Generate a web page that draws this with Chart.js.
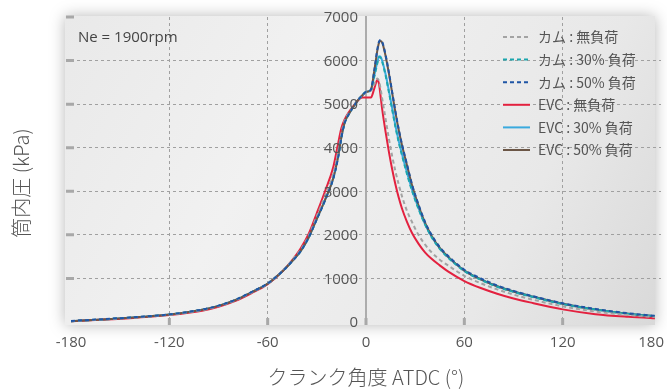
<!DOCTYPE html>
<html>
<head>
<meta charset="utf-8">
<script src="https://cdn.jsdelivr.net/npm/chart.js@4.4.0/dist/chart.umd.min.js"></script>
<style>
  html, body { margin: 0; padding: 0; background: #fff; }
</style>
</head>
<body>
<canvas id="pressureChart" width="667" height="390"></canvas>
<script>
// crank angle (deg ATDC)
const angles = [-180, -160, -140, -120, -100, -90, -80, -70, -60, -50, -45, -40, -35, -30, -25,
  -20, -17, -15, -13, -10, -7, -4, -2, 0, 3, 5, 7, 8, 9, 10, 12, 14, 16, 18, 20,
  22, 25, 28, 32, 36, 40, 45, 50, 60, 70, 80, 90, 100, 120, 140, 160, 180];

// cylinder pressure (kPa)
const camNoLoad = [20, 58, 105, 165, 275, 365, 495, 675, 880, 1210, 1420, 1650, 1980, 2430, 2900,
  3400, 3900, 4330, 4620, 4820, 4990, 5130, 5200, 5270, 5310, 5450, 5590, 5520, 5330, 5100, 4650, 4200, 3800, 3450, 3150,
  2880, 2550, 2300, 2000, 1780, 1600, 1430, 1300, 1060, 890, 750, 630, 530, 360, 240, 160, 100];
const cam30 = [20, 60, 110, 170, 280, 370, 500, 680, 880, 1200, 1400, 1620, 1940, 2370, 2800,
  3300, 3800, 4250, 4580, 4800, 4980, 5130, 5210, 5280, 5320, 5620, 5950, 6080, 6060, 5960, 5650, 5270, 4870, 4470, 4120,
  3820, 3400, 3020, 2600, 2240, 1950, 1680, 1480, 1170, 970, 810, 690, 590, 410, 285, 185, 120];
const cam50 = [25, 65, 115, 175, 285, 375, 505, 685, 885, 1200, 1400, 1620, 1940, 2360, 2790,
  3290, 3780, 4240, 4570, 4800, 4980, 5130, 5210, 5280, 5330, 5760, 6270, 6440, 6470, 6420, 6120, 5720, 5270, 4820, 4420,
  4070, 3620, 3170, 2700, 2300, 2000, 1720, 1520, 1200, 1000, 840, 715, 610, 430, 300, 200, 130];
const evcNoLoad = [20, 55, 100, 160, 260, 350, 480, 660, 870, 1200, 1420, 1680, 2020, 2500, 3000,
  3550, 4100, 4450, 4650, 4840, 4990, 5120, 5150, 5150, 5150, 5350, 5560, 5450, 5150, 4850, 4350, 3900, 3500, 3150, 2850,
  2600, 2300, 2050, 1800, 1600, 1450, 1300, 1160, 940, 780, 650, 540, 450, 290, 180, 120, 80];
const evc30 = [20, 60, 110, 170, 280, 370, 500, 680, 880, 1200, 1400, 1620, 1940, 2370, 2800,
  3300, 3800, 4250, 4580, 4800, 4980, 5130, 5210, 5280, 5330, 5650, 5980, 6100, 6080, 5980, 5680, 5300, 4900, 4500, 4150,
  3850, 3430, 3050, 2620, 2250, 1960, 1690, 1490, 1180, 980, 820, 700, 600, 420, 290, 190, 125];
const evc50 = [20, 60, 110, 170, 280, 370, 500, 680, 880, 1200, 1400, 1620, 1940, 2370, 2800,
  3300, 3800, 4250, 4580, 4800, 4980, 5130, 5210, 5280, 5330, 5750, 6250, 6420, 6450, 6400, 6100, 5700, 5250, 4800, 4400,
  4050, 3600, 3150, 2680, 2280, 1980, 1700, 1500, 1180, 980, 820, 700, 600, 420, 290, 190, 120];

const seriesLabels = ['カム : 無負荷', 'カム : 30% 負荷', 'カム : 50% 負荷', 'EVC : 無負荷', 'EVC : 30% 負荷', 'EVC : 50% 負荷'];
const xTicks = [-180, -120, -60, 0, 60, 120, 180];
const yTicks = [0, 1000, 2000, 3000, 4000, 5000, 6000, 7000];

const textColor = '#555';
const fontLatin = "'Open Sans', 'Noto Sans CJK JP', sans-serif";
const fontCJK = "'Noto Sans CJK JP', sans-serif";

function points(values) {
  return angles.map((a, i) => ({ x: a, y: values[i] }));
}

// light grey plot panel with a soft shadow
const panelPlugin = {
  id: 'panel',
  beforeDraw(chart) {
    const { ctx, chartArea: a } = chart;
    const x = a.left - 6, y = a.top - 1, w = a.right - a.left, h = a.bottom - a.top + 4;
    ctx.save();
    ctx.shadowColor = 'rgba(0,0,0,0.28)';
    ctx.shadowBlur = 14;
    const g = ctx.createLinearGradient(x, y, x + w, y + h);
    g.addColorStop(0, '#e9e9e9');
    g.addColorStop(0.35, '#f1f1f1');
    g.addColorStop(0.75, '#e8e8e8');
    g.addColorStop(1, '#d9d9d9');
    ctx.fillStyle = g;
    ctx.fillRect(x, y, w, h);
    ctx.restore();
  }
};

// short solid tick marks inside the panel edges
const innerTicksPlugin = {
  id: 'innerTicks',
  beforeDatasetsDraw(chart) {
    const { ctx, chartArea: a, scales } = chart;
    ctx.save();
    ctx.strokeStyle = '#a8a8a8';
    ctx.lineWidth = 3;
    ctx.beginPath();
    yTicks.slice(1).forEach(v => {
      const py = scales.y.getPixelForValue(v);
      ctx.moveTo(a.left - 5, py);
      ctx.lineTo(a.left + 3, py);
    });
    xTicks.slice(1, -1).forEach(v => {
      const px = scales.x.getPixelForValue(v);
      ctx.moveTo(px, a.bottom - 4);
      ctx.lineTo(px, a.bottom + 3);
    });
    ctx.stroke();
    ctx.restore();
  }
};

// tick labels, note, y title and legend
const labelsPlugin = {
  id: 'labels',
  afterDatasetsDraw(chart) {
    const { ctx, scales, chartArea: a, width } = chart;
    const axisX = scales.x.getPixelForValue(0);
    ctx.save();
    ctx.fillStyle = textColor;
    ctx.font = "15px " + fontLatin;
    ctx.textAlign = 'right';
    ctx.textBaseline = 'middle';
    yTicks.forEach(v => {
      ctx.fillText(String(v), axisX - 8, scales.y.getPixelForValue(v) + 1);
    });

    ctx.textAlign = 'center';
    xTicks.forEach(v => {
      const label = String(v);
      const half = ctx.measureText(label).width / 2;
      const px = Math.min(scales.x.getPixelForValue(v), width - half - 3);
      ctx.fillText(label, px, a.bottom + 21);
    });

    ctx.fillStyle = '#444';
    ctx.textAlign = 'left';
    ctx.fillText('Ne = 1900rpm', 78, 38);

    ctx.save();
    ctx.translate(21, 183);
    ctx.rotate(-Math.PI / 2);
    ctx.textAlign = 'center';
    ctx.fillStyle = textColor;
    ctx.font = "300 20px " + fontCJK;
    ctx.fillText('筒内圧 (kPa)', 0, 0);
    ctx.restore();

    ctx.font = "14px " + fontCJK;
    ctx.fillStyle = textColor;
    chart.data.datasets.forEach((ds, i) => {
      const ly = 37 + i * 22.6;
      ctx.save();
      ctx.strokeStyle = ds.borderColor;
      ctx.lineWidth = 2;
      ctx.setLineDash(ds.borderDash || []);
      ctx.beginPath();
      ctx.moveTo(503, ly);
      ctx.lineTo(530, ly);
      ctx.stroke();
      ctx.restore();
      ctx.fillText(ds.label, 538, ly);
    });
    ctx.restore();
  }
};

const lineClip = { left: 6, top: 5, right: -6, bottom: 3 };

const ctx = document.getElementById('pressureChart').getContext('2d');
const pressureChart = new Chart(ctx, {
  type: 'line',
  data: {
    datasets: [
      { label: seriesLabels[0], data: points(camNoLoad), borderColor: '#a3a3a3', borderDash: [4, 3], order: 1 },
      { label: seriesLabels[1], data: points(cam30), borderColor: '#1ca6ad', borderDash: [4, 3], order: 1 },
      { label: seriesLabels[2], data: points(cam50), borderColor: '#1f55a5', borderDash: [4, 3], order: 0 },
      { label: seriesLabels[3], data: points(evcNoLoad), borderColor: '#e3213f', order: 3 },
      { label: seriesLabels[4], data: points(evc30), borderColor: '#3aaade', order: 3 },
      { label: seriesLabels[5], data: points(evc50), borderColor: '#6b5646', order: 2 }
    ].map(ds => Object.assign(ds, { clip: lineClip }))
  },
  options: {
    responsive: false,
    animation: false,
    layout: { padding: { left: 71, right: 6, top: 17, bottom: 0 } },
    elements: {
      point: { radius: 0 },
      line: { borderWidth: 2, cubicInterpolationMode: 'monotone', fill: false }
    },
    scales: {
      x: {
        type: 'linear',
        min: -180,
        max: 180,
        afterBuildTicks: s => { s.ticks = xTicks.map(v => ({ value: v })); },
        afterFit: s => { s.height = 68; s.paddingLeft = 0; s.paddingRight = 0; },
        grid: {
          drawTicks: false,
          color: c => (c.tick && [-120, -60, 60, 120].includes(c.tick.value)) ? '#a0a0a0' : 'rgba(0,0,0,0)',
          lineWidth: 1
        },
        border: { display: false, dash: [3, 3] },
        ticks: { display: false },
        title: {
          display: true,
          text: 'クランク角度 ATDC (°)',
          color: textColor,
          padding: { top: 0, bottom: 1 },
          font: { family: fontCJK, size: 20, weight: 300 }
        }
      },
      y: {
        position: { x: 0 },
        min: 0,
        max: 7000,
        afterBuildTicks: s => { s.ticks = yTicks.map(v => ({ value: v })); },
        grid: {
          drawTicks: false,
          color: c => (c.tick && c.tick.value > 0 && c.tick.value < 7000) ? '#a0a0a0' : 'rgba(0,0,0,0)',
          lineWidth: 1
        },
        border: { display: true, color: '#acacac', width: 2, dash: [3, 3] },
        ticks: { display: false }
      }
    },
    plugins: {
      legend: { display: false },
      tooltip: { enabled: false }
    }
  },
  plugins: [panelPlugin, innerTicksPlugin, labelsPlugin]
});
</script>
</body>
</html>
